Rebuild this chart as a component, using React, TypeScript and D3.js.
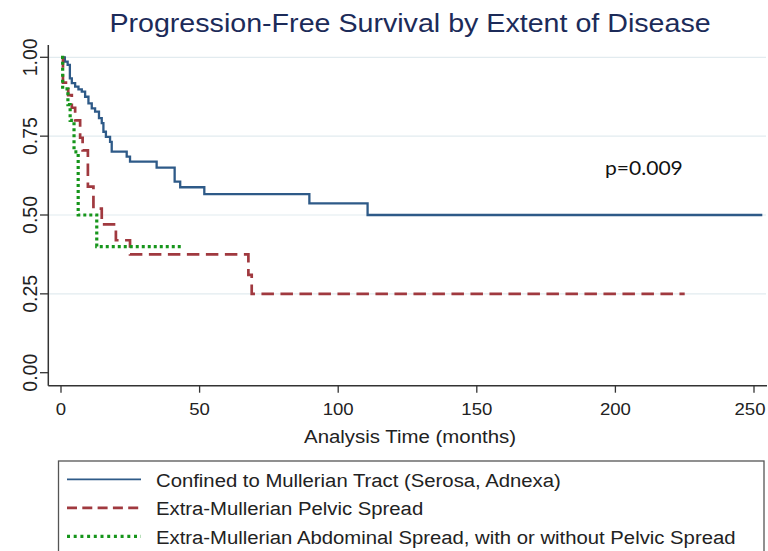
import React, { useEffect, useRef } from "react";
import * as d3 from "d3";

// Kaplan-Meier steps (months, survival)
const confinedTime = [0, 1.4, 2.4, 3.2, 3.9, 5.1, 6.3, 7.5, 8.7, 9.9, 11.1, 12.3, 13.7, 14.7, 15.3, 16.2, 17.7, 18.3, 23.7, 24.9, 34.5, 41.0, 43.0, 51.7, 89.6, 110.6, 253];
const confinedSurv = [1, 0.986, 0.976, 0.933, 0.918, 0.907, 0.898, 0.891, 0.875, 0.854, 0.838, 0.828, 0.807, 0.791, 0.764, 0.748, 0.732, 0.701, 0.685, 0.669, 0.65, 0.606, 0.588, 0.566, 0.537, 0.5, 0.5];

const pelvicTime = [0, 0.7, 2.6, 3.9, 5.1, 6.9, 7.8, 9.7, 11.7, 14.7, 19.8, 24.9, 67.6, 68.8, 225];
const pelvicSurv = [1, 0.92, 0.88, 0.84, 0.8, 0.745, 0.705, 0.59, 0.52, 0.47, 0.42, 0.375, 0.31, 0.25, 0.25];

const abdominalTime = [0, 0.6, 2.5, 3.3, 4.7, 6.2, 12.9, 44];
const abdominalSurv = [1, 0.9, 0.85, 0.8, 0.7, 0.5, 0.4, 0.4];

const xTicks = [0, 50, 100, 150, 200, 250];
const yTicks = [0, 0.25, 0.5, 0.75, 1];
const legendLabels = [
  "Confined to Mullerian Tract (Serosa, Adnexa)",
  "Extra-Mullerian Pelvic Spread",
  "Extra-Mullerian Abdominal Spread, with or without Pelvic Spread",
];

const FONT = "'Liberation Sans', Arial, sans-serif";
const SX = 1.08; // the source picture is a bit wider than tall

export default function App() {
  const svgRef = useRef<SVGSVGElement>(null);

  useEffect(() => {
    const svg = d3.select(svgRef.current);
    svg.selectAll("*").remove();

    const x = d3.scaleLinear().domain([0, 250]).range([61, 754]);
    const y = d3.scaleLinear().domain([0, 1]).range([372.7, 57.3]);
    const axisX = 48.3;
    const axisY = 385.7;

    const label = (px: number, py: number, str: string, size: number, anchor = "middle", rot = 0, fill = "#222", family = FONT, sx = SX) =>
      svg.append("text")
        .attr("transform", `translate(${px},${py}) scale(${sx},1)` + (rot ? ` rotate(${rot})` : ""))
        .attr("text-anchor", anchor)
        .attr("font-family", family)
        .attr("font-size", size)
        .attr("fill", fill)
        .text(str);

    // grid
    svg.append("g")
      .selectAll("line")
      .data(yTicks.filter(d => d > 0))
      .enter()
      .append("line")
      .attr("x1", axisX)
      .attr("x2", 766)
      .attr("y1", d => y(d))
      .attr("y2", d => y(d))
      .attr("stroke", "#e2ebef")
      .attr("stroke-width", 1.2);

    // axes
    svg.append("line").attr("x1", axisX).attr("x2", axisX).attr("y1", 45).attr("y2", axisY)
      .attr("stroke", "#333").attr("stroke-width", 1.5);
    svg.append("line").attr("x1", axisX).attr("x2", 767).attr("y1", axisY).attr("y2", axisY)
      .attr("stroke", "#333").attr("stroke-width", 1.5);

    yTicks.forEach(t => {
      svg.append("line").attr("x1", 40).attr("x2", axisX).attr("y1", y(t)).attr("y2", y(t))
        .attr("stroke", "#333").attr("stroke-width", 1.3);
      label(37, y(t), d3.format(".2f")(t), 19.5, "middle", -90, "#222", FONT, 1);
    });
    xTicks.forEach(t => {
      svg.append("line").attr("x1", x(t)).attr("x2", x(t)).attr("y1", axisY).attr("y2", axisY + 7)
        .attr("stroke", "#333").attr("stroke-width", 1.3);
      // keep the last label inside the picture
      label(Math.min(x(t), 750), 415, String(t), 17.2);
    });

    label(410, 443, "Analysis Time (months)", 18.9);
    label(410, 32, "Progression-Free Survival by Extent of Disease", 26.5, "middle", 0, "#1c2b59");
    label(605, 175, "p=0.009", 19.5, "start", 0, "#111", "Lato, 'Open Sans', sans-serif");

    const line = d3.line<[number, number]>()
      .x(d => x(d[0]))
      .y(d => y(d[1]))
      .curve(d3.curveStepAfter);

    const series = [
      { t: confinedTime, s: confinedSurv, color: "#2e5a88", width: 2.3, dash: null, legW: 1.8, legDash: null },
      { t: pelvicTime, s: pelvicSurv, color: "#a0393f", width: 2.7, dash: "12.5,6.5", legW: 2.7, legDash: "10,5.3" },
      { t: abdominalTime, s: abdominalSurv, color: "#16951b", width: 3.2, dash: "3,3", legW: 3.2, legDash: "3,3.7" },
    ];

    series.forEach(ser => {
      const pts = ser.t.map((t, i) => [t, ser.s[i]] as [number, number]);
      svg.append("path")
        .datum(pts)
        .attr("fill", "none")
        .attr("stroke", ser.color)
        .attr("stroke-width", ser.width)
        .attr("stroke-dasharray", ser.dash)
        .attr("d", line);
    });

    // legend
    svg.append("rect")
      .attr("x", 58.5).attr("y", 461).attr("width", 705.5).attr("height", 110)
      .attr("fill", "#fff").attr("stroke", "#555").attr("stroke-width", 1.3);
    series.forEach((ser, i) => {
      const ly = 479.3 + i * 28.5;
      svg.append("line")
        .attr("x1", 67).attr("x2", 141).attr("y1", ly).attr("y2", ly)
        .attr("stroke", ser.color)
        .attr("stroke-width", ser.legW)
        .attr("stroke-dasharray", ser.legDash);
      label(156, ly + 7.5, legendLabels[i], 18.8, "start");
    });
  }, []);

  return (
    <svg
      ref={svgRef}
      width={768}
      height={551}
      style={{ position: "absolute", left: 0, top: 0, background: "#fff" }}
    />
  );
}
